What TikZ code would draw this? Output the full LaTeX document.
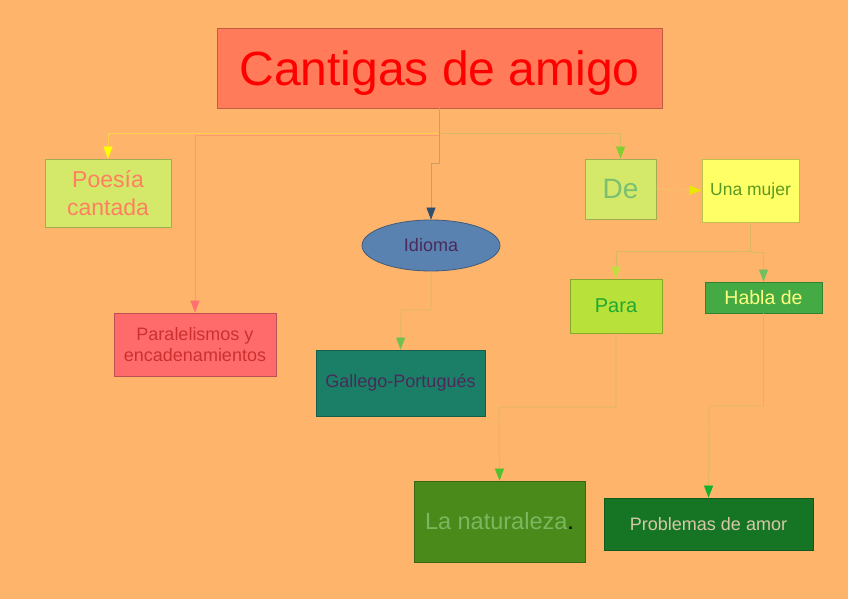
\documentclass[tikz,border=0pt]{standalone}
\usepackage{fontspec}
\setmainfont{Liberation Sans}
\usetikzlibrary{positioning,arrows.meta,shapes.geometric,backgrounds}
\definecolor{cBack}{HTML}{FFB46C}
\definecolor{cTitle}{HTML}{FF7B5A}
\definecolor{cLime}{HTML}{D4E86A}
\definecolor{cRose}{HTML}{FF6B6B}
\definecolor{cBlue}{HTML}{5A82B0}
\definecolor{cTeal}{HTML}{1A7F66}
\definecolor{cLemon}{HTML}{FFFF66}
\definecolor{cPara}{HTML}{B8E23A}
\definecolor{cHabla}{HTML}{44AA44}
\definecolor{cNature}{HTML}{4A8A1A}
\definecolor{cAmor}{HTML}{157524}
% text colours
\definecolor{tSalmon}{HTML}{FF8060}
\definecolor{tBrick}{HTML}{CC3030}
\definecolor{tPlum}{HTML}{4A2A5A}
\definecolor{tMint}{HTML}{7AC070}
\definecolor{tOlive}{HTML}{5A9A20}
\definecolor{tGreen}{HTML}{20A830}
\definecolor{tCream}{HTML}{FFFF80}
\definecolor{tLeaf}{HTML}{7AB860}
\definecolor{tBeige}{HTML}{D8C8A8}
% connector colours
\definecolor{wTan}{HTML}{D8B860}
\definecolor{wYellow}{HTML}{FFD050}
\definecolor{wPink}{HTML}{FF9A70}
\definecolor{wBrown}{HTML}{C8A060}
\definecolor{wDash}{HTML}{E8D060}
\definecolor{aYellow}{HTML}{FFFF00}
\definecolor{aPink}{HTML}{FF7070}
\definecolor{aNavy}{HTML}{2F4F6F}
\definecolor{aLime}{HTML}{80D030}
\definecolor{aCitron}{HTML}{E8E800}
\definecolor{aPale}{HTML}{C0E040}
\definecolor{aSage}{HTML}{70C060}
\definecolor{aGrass}{HTML}{70C050}
\definecolor{aLeaf}{HTML}{50C030}
\definecolor{aEmerald}{HTML}{10B030}

\begin{document}
\begin{tikzpicture}[
  x=1pt, y=-1pt,
  box/.style 2 args={draw=#1!75!black, fill=#1, line width=0.8pt, inner sep=0pt,
    align=center, text=#2},
  oval/.style 2 args={ellipse, draw=#1!70!black, fill=#1, line width=0.8pt,
    inner sep=0pt, text=#2},
  wire/.style 2 args={draw=#1, line width=0.7pt,
    -{Triangle[length=12pt,width=9pt,fill=#2,color=#2]}},
  fs/.style={font=\fontsize{#1pt}{1.2\dimexpr#1pt\relax}\selectfont},
]
% Page
\fill[cBack] (0,0) rectangle (848,599);
\useasboundingbox (0,0) rectangle (848,599);

% Title
\node[box={cTitle}{red}, minimum width=445pt, minimum height=80pt, fs=48,
  text depth=0pt] (title) at (439.5,68) {Cantigas de amigo};

% First row
\node[box={cLime}{tSalmon}, minimum width=126pt, minimum height=68pt, fs=23]
  (poesia) at (108,193) {Poesía\\cantada};
\node[box={cRose}{tBrick}, minimum width=162pt, minimum height=63pt, fs=18]
  (paral) at (195,344.5) {Paralelismos y\\encadenamientos};
\node[oval={cBlue}{tPlum}, minimum width=138pt, minimum height=51pt, fs=18]
  (idioma) at (431,245.5) {Idioma};
\node[box={cTeal}{tPlum}, minimum width=169pt, minimum height=66pt, fs=18]
  (gallego) at (400.5,383) {Gallego-Portugués};
\node[box={cLime}{tMint}, minimum width=71pt, minimum height=60pt, fs=28]
  (de) at (620.5,189) {De};
\node[box={cLemon}{tOlive}, minimum width=97pt, minimum height=63pt, fs=17.5]
  (mujer) at (750.5,190.5) {Una mujer};

% Second row
\node[box={cPara}{tGreen}, minimum width=92pt, minimum height=54pt, fs=20]
  (para) at (616,306) {Para};
\node[box={cHabla}{tCream}, minimum width=117pt, minimum height=31pt, fs=19.5]
  (habla) at (763.5,297.5) {Habla de};
\node[box={cNature}{tLeaf}, minimum width=171pt, minimum height=81pt, fs=23.5]
  (nature) at (499.5,521.5) {La naturaleza\textcolor{black}{.}};
\node[box={cAmor}{tBeige}, minimum width=209pt, minimum height=52pt, fs=18]
  (amor) at (708.5,524) {Problemas de amor};

% Bends
\coordinate (kPoesia) at (439.5,133);
\coordinate (kParal)  at (439.5,135);
\coordinate (kIdioma) at (431,163);
\coordinate (kDe)     at (439.5,133);
\coordinate (kSplit)  at (750.5,251);
\coordinate (kHabla)  at (750.5,252);
\coordinate (kLang)   at (401,310);
\coordinate (kPara)   at (499,407);
\coordinate (kAmor)   at (709,406);

% Connectors
\draw[wire={wYellow}{aYellow}] (title.south) -- (kPoesia) -| (poesia.north);
\draw[wire={wPink}{aPink}] (title.south) -- (kParal) -| (paral.north);
\draw[wire={wBrown}{aNavy}] (title.south) |- (kIdioma) -- (idioma.north);
\draw[wire={wTan}{aLime}] (kDe) -| (de.north);
\draw[wire={wDash}{aCitron}, dashed] (de.east) -- (mujer.west);
\draw[wire={wTan}{aPale}] (mujer.south) -- (kSplit) -| (para.north);
\draw[wire={wTan}{aSage}] (kHabla) -| (habla.north);
\draw[wire={wTan}{aGrass}] (idioma.south) |- (kLang) -- (gallego.north);
\draw[wire={wTan}{aLeaf}] (para.south) |- (kPara) -- (nature.north);
\draw[wire={wTan}{aEmerald}] (habla.south) |- (kAmor) -- (amor.north);

\end{tikzpicture}
\end{document}
